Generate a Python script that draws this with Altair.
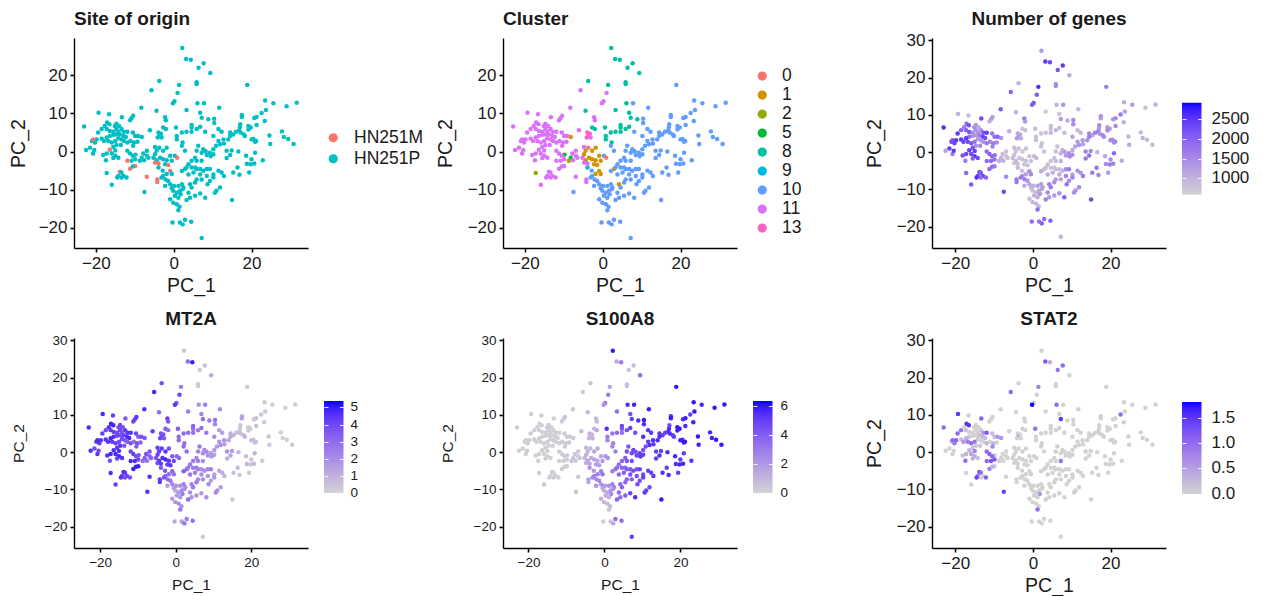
import altair as alt
import pandas as pd

FONT = "Liberation Sans"

pc1 = [
    2.2,3.2,4.4,7.7,6.4,9.4,5.9,5.9,-3.7,1.4,
    -5.7,1.0,18.9,0.2,-0.2,6.1,7.8,23.5,25.6,31.6,
    29.0,11.7,-8.3,3.3,-4.4,-19.3,-16.6,6.8,23.7,22.6,
    17.5,17.5,7.2,21.3,20.7,-10.4,-10.8,-11.2,-13.3,-2.2,
    -2.0,8.9,10.4,10.4,23.4,21.3,17.1,19.2,19.8,19.2,
    17.0,16.8,16.0,18.0,20.5,21.2,24.6,24.8,27.8,28.3,
    29.4,30.8,
    14.5,15.3,14.5,14.0,17.2,18.3,20.0,20.9,11.5,12.3,
    10.2,12.8,11.5,11.9,12.9,10.9,10.2,9.3,8.5,7.2,
    6.3,5.9,7.6,10.2,9.5,8.2,13.6,14.9,14.5,13.6,
    16.6,18.6,20.9,20.0,18.8,19.8,20.7,22.9,19.4,16.4,
    15.3,16.9,15.0,12.3,12.9,11.5,10.2,11.9,10.6,11.0,
    8.5,9.3,7.6,6.8,5.9,4.6,3.8,4.6,5.5,5.9,
    7.2,2.9,2.1,3.3,5.5,3.8,5.1,6.8,8.5,9.3,
    10.2,7.2,5.9,4.2,4.6,5.5,8.7,6.8,8.1,4.2,
    5.5,3.3,3.8,2.5,2.1,-2.1,-1.4,-2.2,-0.9,-0.5,
    -0.1,0.8,1.6,2.3,0.3,1.2,-0.9,-0.1,0.8,1.5,
    1.2,1.8,0.1,1.2,-0.3,1.6,2.3,2.9,4.5,7.2,
    -7.5,-15.9,
    4.6,4.6,6.8,0.6,3.3,2.1,4.6,5.9,8.1,0.8,
    0.8,2.3,2.1,2.9,-2.7,-2.0,-6.1,-3.9,-3.7,-3.3,
    -4.1,-3.1,-4.8,-3.7,-1.8,-4.4,-2.7,-4.8,-3.5,-2.7,
    -1.8,-4.4,-5.2,-0.9,0.3,0.9,-0.5,-2.2,-1.4,-4.8,
    -3.9,-2.8,-3.9,-0.9,-1.8,-0.5,-2.7,-4.2,-4.2,-3.1,
    -6.9,-6.9,-7.8,-6.9,-8.2,-7.6,-6.5,-8.7,-8.2,-9.8,
    -17.2,
    -23.0,-21.5,-22.5,-20.7,-20.4,-21.0,-20.2,-19.8,-20.7,-19.4,
    -18.5,-17.7,-17.1,-16.5,-17.2,-16.4,-15.1,-14.7,-14.0,-13.4,
    -12.8,-11.9,-15.5,-14.7,-14.2,-13.8,-12.9,-12.3,-14.7,-15.5,
    -16.4,-17.2,-18.5,-17.9,-16.8,-15.9,-15.0,-14.2,-13.4,-12.8,
    -11.9,-11.1,-9.9,-9.1,-10.5,-10.2,-9.3,-10.4,-13.6,-14.7,
    -15.5,-16.4,-15.0,-18.1,-17.2,-15.9,-15.0,-14.2,-15.5,-17.4,
    -11.9,-11.2,-10.5,-9.9,-10.8,-11.9,-9.9,-11.2,-10.5,-13.8,
    -13.4,-14.2,-12.9,-12.1,-13.4,-14.5,
]
pc2 = [
    27.2,24.3,24.1,23.2,22.0,20.6,18.2,17.7,18.5,17.5,
    16.1,15.4,17.5,13.2,12.7,12.7,12.7,13.4,12.7,12.8,
    11.9,11.5,11.5,10.9,10.7,10.2,9.8,10.2,10.9,10.1,
    9.6,9.1,8.9,9.1,8.8,9.4,8.8,8.2,9.0,9.0,
    8.2,8.5,8.6,7.5,8.0,7.0,7.2,6.7,6.3,5.8,
    6.3,5.5,5.2,4.5,3.3,2.8,4.2,2.0,5.3,3.8,
    3.3,2.0,
    5.0,4.5,4.1,3.2,5.0,4.1,3.2,2.6,5.9,5.2,
    4.1,3.2,2.8,1.9,2.1,1.5,0.6,-0.3,-0.9,-0.3,
    1.5,0.2,0.6,-0.7,-1.2,0.1,0.2,0.3,-0.9,-1.7,
    0.0,-1.1,-0.3,-2.0,-3.2,-3.3,-3.1,-2.3,-5.5,-4.2,
    -5.5,-6.1,-12.7,-5.5,-6.4,-5.0,-6.0,-9.4,-10.8,-10.3,
    -4.6,-4.6,-5.0,-4.6,-4.6,-4.2,-3.3,-2.4,-1.6,-2.4,
    -2.4,-4.6,-5.1,-4.2,-4.2,-6.0,-5.5,-6.0,-6.4,-7.7,
    -6.8,-7.3,-7.3,-8.6,-9.4,-8.1,-8.6,-11.0,-12.1,-12.1,
    -11.6,-12.7,-10.8,-9.4,-8.6,-7.3,-7.7,-9.0,-8.6,-9.6,
    -10.3,-10.8,-10.3,-9.9,-11.6,-12.1,-12.5,-13.4,-13.8,-14.5,
    -15.4,-11.2,-9.0,-9.0,-18.6,-18.6,-19.1,-17.9,-18.4,-22.7,
    -10.6,-8.7,
    7.0,6.3,6.5,6.3,5.2,5.0,5.2,5.9,5.2,4.1,
    3.2,2.4,1.5,0.2,6.3,5.9,5.6,5.0,4.1,4.7,
    3.7,3.7,1.2,1.0,1.0,0.2,0.2,-0.7,-1.6,-2.0,
    -2.3,-2.3,-1.6,-1.1,-1.1,-1.6,-2.4,-3.3,-3.5,-2.9,
    -3.1,-5.0,-4.2,-5.1,-5.9,-5.9,-6.4,-7.3,-8.0,-6.8,
    -6.6,0.2,-0.5,-1.1,-1.6,-2.3,-1.6,-2.4,3.8,-0.8,
    -5.6,
    6.6,1.0,0.4,-0.5,0.4,2.8,2.4,3.2,3.2,5.0,
    5.9,6.7,7.6,7.2,5.9,5.4,6.7,7.3,6.7,5.9,
    5.2,5.2,5.2,5.9,5.2,4.5,4.1,3.8,4.5,4.4,
    4.1,3.7,3.4,2.8,2.8,2.4,2.8,3.5,3.2,2.8,
    2.4,2.8,4.1,4.1,5.0,2.4,2.6,1.5,1.7,1.7,
    1.2,0.5,0.3,-0.9,-0.5,-0.5,-1.1,-1.6,-1.7,-2.3,
    0.2,-0.5,-1.1,-2.0,-2.4,-2.4,-3.8,-4.5,-3.9,-5.3,
    -5.5,-6.4,-6.4,-6.8,-6.8,-6.8,
]
cluster = [
    8,8,8,8,8,8,8,8,8,8,
    11,11,10,11,11,8,10,10,10,10,
    10,10,11,8,8,11,11,8,10,10,
    10,10,8,10,10,11,11,11,11,11,
    11,8,10,10,10,10,10,10,10,10,
    10,10,10,10,10,10,10,10,10,10,
    10,10,
    10,10,10,10,10,10,10,10,10,10,
    10,10,10,10,10,10,10,10,10,10,
    10,10,10,10,10,10,10,10,10,10,
    10,10,10,10,10,10,10,10,10,10,
    10,10,10,10,10,10,10,10,10,10,
    10,10,10,10,10,10,10,10,10,10,
    10,1,10,10,10,10,10,10,10,10,
    10,10,10,1,10,10,10,10,10,10,
    10,10,10,10,10,10,10,10,10,10,
    10,10,10,10,10,10,10,10,10,10,
    10,10,10,10,10,10,10,10,10,10,
    10,11,
    8,8,8,8,8,8,8,8,10,8,
    8,8,10,10,8,8,11,13,13,13,
    13,11,11,0,1,1,1,1,1,1,
    1,1,11,1,10,0,1,1,1,11,
    11,10,9,1,1,1,10,11,11,10,
    11,11,11,11,5,11,11,2,1,5,
    2,
] + [11] * 76
genes = [
    1300,2500,2300,2500,2200,1100,1600,1500,1000,2600,
    2000,2100,1700,2200,2100,1000,1400,1100,1300,1000,
    800,900,2100,700,1000,1000,900,800,1200,1700,
    1500,1300,1300,1500,1400,1200,1300,1000,2300,1700,
    1300,1100,1500,1500,1000,1500,1500,1300,1300,1500,
    1300,1700,1600,1700,1500,1700,1000,1100,900,1000,
    900,900,
    1500,1200,1700,1400,1400,1500,1500,1500,900,950,
    1200,1300,1300,1400,1200,1200,1100,1400,1300,1000,
    800,800,950,1400,1500,1200,1600,1500,1800,1700,
    1000,1100,1900,1500,1500,1700,1600,1100,1300,1800,
    1700,1600,2300,1400,1700,1400,1200,1500,1500,1400,
    1500,1700,1000,900,850,800,800,800,800,850,
    1000,850,1100,850,850,1100,1000,1100,1600,1500,
    1600,1200,1300,1600,1700,1400,1800,1400,2000,1300,
    1300,1600,1500,1200,1300,1700,1400,1100,1200,900,
    800,900,1100,1200,950,1000,900,1000,1000,900,
    1900,1300,1000,1200,1900,1800,2000,1900,2000,1000,
    2300,2100,
    850,850,900,900,800,800,900,900,900,850,
    850,800,800,800,800,850,1000,1100,1400,1200,
    1300,1100,900,800,800,800,750,800,800,800,
    800,900,900,750,900,900,800,800,800,800,
    800,800,900,1500,1200,1500,1500,1700,1700,1700,
    1500,800,850,800,1000,1000,800,1100,1300,1800,
    1900,
    2600,2400,1200,1700,2500,2300,2300,2500,2200,2500,
    2000,1700,1900,2200,2000,2200,1500,1300,1100,1500,
    2200,2400,1500,1400,1400,1700,2400,2300,1300,1400,
    1800,2500,2500,2400,2300,2100,1800,1300,1300,1400,
    1700,1500,1800,2000,1700,1700,1500,1600,1500,1400,
    2200,2400,2400,2200,2300,2300,2500,2300,2000,1700,
    1900,2000,1900,1800,1900,1900,1700,1900,1800,2200,
    2100,2300,2400,2000,1900,2600,
]
mt2a = [
    0.3,3.0,5.0,0.5,0.2,1.2,0.3,0.3,3.8,2.5,
    4.8,4.0,0.3,3.5,4.5,1.8,2.5,0.2,0.1,0.1,
    0.1,2.0,4.6,2.5,3.0,4.8,4.2,2.3,0.3,0.4,
    1.2,1.5,3.0,0.5,0.4,4.5,4.3,4.0,3.5,4.2,
    3.5,2.5,2.8,2.3,0.2,0.5,0.3,0.3,0.2,0.2,
    0.3,0.4,0.5,0.7,0.5,0.8,0.3,0.3,0.1,0.1,
    0.2,0.2,
    1.0,0.8,1.0,1.2,0.6,0.9,0.7,0.6,1.5,1.5,
    2.0,1.8,1.7,1.9,1.5,1.7,1.6,1.6,1.8,2.0,
    2.6,2.4,2.2,1.5,1.6,2.0,1.8,1.5,1.2,1.0,
    0.8,0.6,0.9,0.5,0.9,0.4,0.8,0.3,0.3,0.6,
    0.5,0.3,0.3,1.0,0.9,1.2,1.5,1.5,2.2,2.0,
    2.2,2.4,2.0,2.0,2.3,2.5,2.6,2.5,2.2,2.4,
    2.0,3.0,3.3,2.6,2.5,2.6,2.5,2.0,1.8,1.5,
    1.7,2.1,2.2,2.4,2.6,2.5,2.0,1.6,2.0,1.8,
    1.8,3.0,2.0,2.2,2.4,3.0,2.8,1.6,2.2,1.6,
    1.4,1.8,2.0,2.0,1.6,1.7,1.6,1.8,2.0,1.8,
    2.6,2.4,1.8,2.0,1.2,1.5,2.8,2.5,2.8,0.3,
    4.5,4.2,
    3.2,3.0,2.9,3.5,3.0,3.0,2.8,2.6,2.6,3.0,
    3.0,2.8,3.0,2.9,3.5,3.0,4.2,3.6,4.1,3.8,
    4.0,3.6,4.2,4.4,3.8,4.3,4.5,4.2,4.6,4.8,
    4.4,4.5,3.8,3.5,3.2,3.2,4.0,4.2,4.4,4.0,
    4.3,3.6,3.5,3.2,3.0,2.8,3.0,4.2,4.4,3.6,
    4.6,3.5,3.8,3.2,3.4,3.0,3.3,3.0,3.5,3.8,
    4.6,
    4.7,3.8,4.6,4.5,4.0,4.2,4.3,4.6,4.7,4.2,
    4.0,4.5,5.0,4.8,4.4,4.2,3.8,4.0,3.6,4.3,
    4.4,4.6,3.9,4.0,3.6,4.2,4.6,4.8,3.8,4.0,
    4.5,4.8,4.5,4.6,4.4,4.2,4.0,3.9,3.6,3.4,
    3.8,3.0,3.5,3.8,4.0,3.6,3.2,3.5,3.6,4.4,
    4.5,4.7,4.6,4.6,4.8,4.8,4.9,4.5,4.2,3.8,
    4.0,4.3,3.8,4.0,4.6,4.7,5.0,5.0,5.0,4.8,
    4.4,4.0,4.2,3.8,3.7,4.5,
]
s100a8 = [
    6.0,1.5,3.0,0.8,0.5,3.5,0.5,0.6,0.5,1.5,
    0.4,3.0,6.0,3.0,2.2,5.5,5.8,6.0,5.6,6.0,
    6.0,5.8,0.3,3.5,0.8,0.2,0.2,4.5,6.0,5.0,
    5.5,6.0,5.0,6.0,5.6,0.5,0.3,0.2,0.2,1.0,
    0.8,5.5,6.0,5.5,5.8,5.6,4.5,6.0,6.0,5.8,
    5.5,5.4,5.0,4.8,5.5,6.0,6.0,5.8,5.6,5.8,
    6.0,6.0,
    5.2,5.0,5.5,5.5,5.5,5.0,5.8,6.0,5.3,5.2,
    5.5,5.5,5.2,5.4,5.2,4.6,4.5,5.0,4.8,4.7,
    4.2,4.5,4.8,5.0,5.2,4.5,5.0,5.0,5.5,5.0,
    5.5,5.6,5.0,5.2,5.5,5.6,5.7,5.3,5.0,5.0,
    5.4,5.5,6.0,5.0,5.2,5.0,4.5,4.6,5.3,5.0,
    4.2,4.8,4.5,4.2,4.0,3.8,3.5,3.8,3.9,4.2,
    4.4,3.2,3.0,3.5,3.8,3.6,4.0,4.4,4.5,4.5,
    5.0,4.0,3.8,3.6,3.8,3.6,4.4,4.8,5.5,3.5,
    4.0,3.8,3.5,3.0,2.8,2.6,2.4,2.0,2.2,1.6,
    1.4,1.6,2.0,2.2,1.3,1.2,1.2,1.0,0.9,0.8,
    0.5,2.4,2.0,2.3,0.2,0.4,1.5,3.5,3.5,5.0,
    0.5,0.3,
    4.8,4.3,5.0,5.5,3.5,3.2,3.4,4.3,4.5,3.0,
    2.8,2.8,2.6,2.8,1.0,1.2,0.8,1.2,1.2,1.0,
    0.9,1.0,0.9,0.9,1.4,1.0,1.5,1.2,1.3,1.6,
    1.5,1.6,1.0,1.6,2.2,2.2,2.0,2.0,1.8,1.4,
    1.4,2.0,2.0,2.8,2.8,3.2,3.0,1.8,1.6,2.6,
    0.3,0.3,0.4,0.3,0.5,0.4,0.4,0.5,0.3,0.2,
    0.2,
    0.2,0.1,0.1,0.1,0.2,0.1,0.2,0.1,0.1,0.2,
    0.1,0.1,0.2,0.1,0.1,0.1,0.2,0.3,0.2,0.1,
    0.1,0.1,0.2,0.2,0.2,0.1,0.2,0.1,0.1,0.2,
    0.2,0.1,0.2,0.2,0.1,0.1,0.2,0.1,0.1,0.1,
    0.2,0.2,0.2,0.3,0.2,0.2,0.3,0.2,0.1,0.1,
    0.1,0.2,0.1,0.1,0.1,0.1,0.1,0.1,0.2,0.1,
    0.2,0.2,0.2,0.2,0.1,0.1,0.2,0.1,0.2,0.1,
    0.1,0.2,0.2,0.1,0.2,0.1,
]
stat2 = [
    0,1.2,0.3,1.0,0.9,0,0,0,0,0.8,
    1.0,0,0,0.1,1.8,1.0,0,0,0,0,
    0,0,0,0,0,1.5,0,0,0,1.0,
    0,0,1.5,0,0,0,0,0,1.1,0,
    0,0,0,0,0,0,0,0,0,0,
    0,0,0,0,0,0,0,0,0,0,
    0,0,
    0,0,0,0,0,0,0,0,0,0,
    0,0,0,0,0,0,0,0,0,0,
    0,0,0,0,0,0,0,0,0,0,
    0,0,0,0,0,0,0,0,0,0,
    0,0,0,0,0,0,0,0,0,0,
    0,0,0,0,0,0,0,0,0,0,
    0.9,0,0,0,0,0,0,0,0,0,
    0,0,0,0,0,0,0,0,0,0,
    0,0,0,0,0,0,0,0,0,0,
    0,0,0,0,0,0,0,0,0,0,
    1.0,0.6,0,0,0,0,0,0,0,0,
    1.4,0,
    0,0,0,1.0,0,0,0,0,0,0,
    0,0,0,0,0,0,0,0,1.0,0,
    0,0,0,0,0,0,0,0,0,0,
    0,0,0,0,0,0,0,0,0,0,
    0,0,0,0,0,0,0,0,0,0,
    0,0,0,0,0,0,0,0,0.6,0,
    0,
    1.0,0,0,0,0,0,0.8,1.1,1.0,1.0,
    0.9,0,1.5,1.5,0.2,0,0,0,0,0.1,
    0.6,1.2,0,0,0,0.2,0.3,0.2,0,0,
    0.1,0.3,0.2,0.6,0.9,1.0,0.9,0.1,0,0,
    0.3,0,0.2,0.6,0.2,0.3,0,0.7,0.1,0.1,
    0.2,0.3,0.8,0.2,0.3,0.5,0.4,0.2,0.3,1.0,
    1.0,1.1,1.0,1.2,1.2,1.0,0.1,0.8,0.3,1.3,
    1.0,0.8,0.1,1.1,0,1.4,
]
hn251m_pc1 = [-20.7,-16.4,-11.9,-13.8,-11.2,-9.9,-6.9,-4.8,-3.9,-4.2,-4.2,-0.9,0.9,-1.4]
hn251m_pc2 = [3.2,0.5,-2.4,-5.3,-4.5,-3.8,-6.6,-2.9,-3.1,-7.3,-8.0,-5.1,-1.6,-3.5]

site_names = ["HN251M", "HN251P"]
site_colors = ["#F8766D", "#00BFC4"]
cluster_names = ["0", "1", "2", "5", "8", "9", "10", "11", "13"]
cluster_colors = ["#F8766D", "#D39200", "#93AA00", "#00BA38", "#00C19F",
                  "#00B9E3", "#619CFF", "#DB72FB", "#FF61C3"]

m_points = set(zip(hn251m_pc1, hn251m_pc2))
df = pd.DataFrame({
    "PC_1": pc1, "PC_2": pc2,
    "cluster": [str(c) for c in cluster],
    "site": ["HN251M" if p in m_points else "HN251P" for p in zip(pc1, pc2)],
    "genes": genes, "mt2a": mt2a, "s100a8": s100a8, "stat2": stat2,
})

W, H = 234, 210
TEXT = "#1a1a1a"
BAR_X, BAR_W, BAR_H, BAR_TICK = 250, 19.5, 92, 4


def axis(title, values, label_size, title_size, pad, label_pad=3):
    return alt.Axis(
        title=title, values=values, grid=False, domainColor="black", domainWidth=1.4,
        tickColor="black", tickWidth=1.6, tickSize=4, labelFont=FONT, titleFont=FONT,
        labelFontSize=label_size, titleFontSize=title_size, titleFontWeight="normal",
        labelColor=TEXT, titleColor=TEXT, titlePadding=pad, labelPadding=label_pad,
        labelFlush=False, labelOverlap=False,
    )


def bar_tick_layer(xdom, ydom, dom, vals, ly, orient, offset):
    # colourbar ticks: white axis ticks that are painted over the gradient legend,
    # each legend value expressed on the panel's own PC_2 scale
    pos = [ly + BAR_H * (1 - (v - dom[0]) / (dom[1] - dom[0])) for v in vals]
    where = [ydom[1] - p / H * (ydom[1] - ydom[0]) for p in pos]
    data = pd.DataFrame({"PC_1": [0] * len(where), "PC_2": where})
    return alt.Chart(data).mark_point(opacity=0, size=1).encode(
        x=alt.X("PC_1:Q", scale=alt.Scale(domain=xdom, nice=False, zero=False)),
        y=alt.Y("PC_2:Q", scale=alt.Scale(domain=ydom, nice=False, zero=False),
                axis=alt.Axis(orient=orient, offset=offset, values=where, title=None, labels=False,
                              domain=False, grid=False, tickColor="white", tickOpacity=0.85,
                              tickWidth=1, tickSize=BAR_TICK, zindex=1)),
    )


def panel(title, color, xdom, ydom, yticks, sizes, pads, anchor, offset, bar=None):
    ls, ts = sizes
    base = alt.Chart(df).mark_circle(size=20, opacity=1).encode(
        x=alt.X("PC_1:Q", scale=alt.Scale(domain=xdom, nice=False, zero=False),
                axis=axis("PC_1", [-20, 0, 20], ls, ts, pads[0])),
        y=alt.Y("PC_2:Q", scale=alt.Scale(domain=ydom, nice=False, zero=False),
                axis=axis("PC_2", yticks, ls, ts, pads[1])),
        color=color,
    )
    props = dict(
        width=W, height=H,
        title=alt.TitleParams(title, anchor=anchor, frame="group", font=FONT, fontSize=19,
                              fontWeight="bold", color=TEXT, offset=offset),
    )
    if not bar:
        return alt.layer(base).properties(**props)
    dom, vals, ly = bar
    right = bar_tick_layer(xdom, ydom, dom, vals, ly, "right", BAR_X - W)
    left = bar_tick_layer(xdom, ydom, dom, vals, ly, "left", -(BAR_X + BAR_W))
    return alt.layer(base, right, left).resolve_axis(y="independent").properties(**props)


def cat_color(field, names, colors, lx, ly, row_pad, label_off, clip=None):
    kw = {"clipHeight": clip} if clip else {}
    return alt.Color(f"{field}:N", scale=alt.Scale(domain=names, range=colors), legend=alt.Legend(
        title=None, orient="none", legendX=lx, legendY=ly, symbolType="circle", symbolSize=85,
        symbolStrokeWidth=0, symbolOpacity=1, labelFont=FONT, labelFontSize=17.5, labelColor=TEXT,
        labelOffset=label_off, rowPadding=row_pad, labelLimit=200, values=names, **kw,
    ))


def grad_color(field, dom, vals, lx, ly, lsize, loff, fmt):
    return alt.Color(f"{field}:Q", scale=alt.Scale(domain=dom, range=["#D3D3D3", "#0000FF"],
                                                   interpolate="lab", nice=False, zero=False),
                     legend=alt.Legend(
        title=None, orient="none", legendX=lx, legendY=ly, type="gradient", gradientLength=BAR_H,
        gradientThickness=BAR_W, gradientStrokeWidth=0, values=vals, format=fmt, labelFont=FONT,
        labelFontSize=lsize, labelColor=TEXT, labelOffset=loff, labelOverlap=False,
    ))


XD1 = [-25.6, 34.5]
YD1 = [-25.3, 29.8]
YD2 = [-25.7, 30.6]
big = (17, 19.5)
small = (13.5, 15.5)
genes_dom, genes_vals = [580, 2920], [1000, 1500, 2000, 2500]
mt_dom, mt_vals = [-0.02, 5.38], [0, 1, 2, 3, 4, 5]
s1_dom, s1_vals = [-0.02, 6.35], [0, 2, 4, 6]
st_dom, st_vals = [-0.005, 1.81], [0.0, 0.5, 1.0, 1.5]
ticks_a = [-20, -10, 0, 10, 20]
ticks_b = [-20, -10, 0, 10, 20, 30]

p1 = panel("Site of origin", cat_color("site", site_names, site_colors, 250.5, 91, 2, 12),
           XD1, YD1, ticks_a, big, (5, 10), "start", 9)
p2 = panel("Cluster", cat_color("cluster", cluster_names, cluster_colors, 250.5, 29, 0, 11, 18.2),
           XD1, YD1, ticks_a, big, (5, 12), "start", 9)
p3 = panel("Number of genes", grad_color("genes", genes_dom, genes_vals, BAR_X, 64.7, 17, 10, "d"),
           [-26, 34.3], YD2, ticks_b, big, (5, 12), "middle", 2,
           (genes_dom, genes_vals, 64.7))
p4 = panel("MT2A", grad_color("mt2a", mt_dom, mt_vals, BAR_X, 63, 13.5, 7, "d"),
           [-26.9, 35], YD2, ticks_b, small, (9, 18), "middle", 4,
           (mt_dom, mt_vals, 63))
p5 = panel("S100A8", grad_color("s100a8", s1_dom, s1_vals, BAR_X, 63, 13.5, 8, "d"),
           [-26.7, 34.9], YD2, ticks_b, small, (9, 18), "middle", 4,
           (s1_dom, s1_vals, 63))
p6 = panel("STAT2", grad_color("stat2", st_dom, st_vals, BAR_X, 64, 17, 10, ".1f"),
           [-26, 34.3], YD2, ticks_b, big, (5, 12), "middle", 2,
           (st_dom, st_vals, 64))

chart = alt.concat(p1, p2, p3, p4, p5, p6, columns=3, spacing={"column": 195, "row": 90}, bounds="flush").resolve_scale(
    color="independent", x="independent", y="independent"
).configure_view(stroke=None).properties(padding={"left": 0, "top": 2, "right": 0, "bottom": 6}, background="white")

chart.save("out.html", embed_options={"renderer": "svg", "actions": False})
